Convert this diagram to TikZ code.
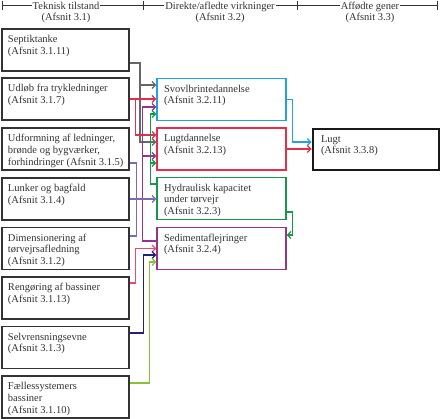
\documentclass[tikz,border=0pt]{standalone}
\usepackage{fontspec}
\setmainfont{Liberation Serif}
\usepackage{xcolor}
\usepackage{tikz}
\usetikzlibrary{arrows.meta}

\definecolor{boxgray}{HTML}{333333}
\definecolor{txtgray}{HTML}{333333}
\definecolor{lgray}{HTML}{666666}
\definecolor{cred}{HTML}{E42F4C}
\definecolor{cblue}{HTML}{22A3DE}
\definecolor{cgreen}{HTML}{169947}
\definecolor{cpurple}{HTML}{93358A}
\definecolor{clav}{HTML}{7A69B5}
\definecolor{cpink}{HTML}{E84A74}
\definecolor{cnavy}{HTML}{252070}
\definecolor{clime}{HTML}{86C234}

\newcommand{\boxtxt}[1]{\parbox[c][31pt][t]{115pt}{\begin{tabular}[t]{@{}l@{}}#1\end{tabular}}}

\tikzset{
  leftbox/.style={draw=boxgray, line width=1.4pt, minimum width=127pt, minimum height=42pt,
    inner xsep=6pt, inner ysep=5.5pt, text=txtgray},
  midbox/.style={draw=#1, line width=1.3pt, minimum width=129pt, minimum height=42pt,
    inner xsep=7pt, inner ysep=5.5pt, text=txtgray},
  conn/.style={line width=1.2pt},
  headtxt/.style={fill=white, inner sep=1pt, align=center, text=txtgray}
}

\begin{document}
\begin{tikzpicture}[x=1pt, y=-1pt, >={Straight Barb[length=3.5pt,width=7pt]},
    every node/.style={font=\fontsize{10.5}{11.7}\selectfont}]
    \useasboundingbox (0,0) rectangle (442,419);

    % Header
    \draw[boxgray, line width=0.8pt] (2,5.5) -- (437,5.5);
    \foreach \tx in {2,143,297,437}
      \draw[boxgray, line width=1pt] (\tx,1) -- (\tx,10);
    \node[headtxt] (h1) at (66,12.5) {Teknisk tilstand\\(Afsnit 3.1)};
    \node[headtxt] (h2) at (220,12.5) {Direkte/afledte virkninger\\(Afsnit 3.2)};
    \node[headtxt] (h3) at (370,12.5) {Affødte gener\\(Afsnit 3.3)};

    % Teknisk tilstand
    \node[leftbox] (sep) at (65.5,50) {\boxtxt{Septiktanke\\(Afsnit 3.1.11)}};
    \node[leftbox] (udl) at (65.5,99) {\boxtxt{Udløb fra trykledninger\\(Afsnit 3.1.7)}};
    \node[leftbox] (udf) at (65.5,149) {\boxtxt{Udformning af ledninger,\\brønde og bygværker,\\forhindringer (Afsnit 3.1.5)}};
    \node[leftbox] (lun) at (65.5,199) {\boxtxt{Lunker og bagfald\\(Afsnit 3.1.4)}};
    \node[leftbox] (dim) at (65.5,248.5) {\boxtxt{Dimensionering af\\tørvejrsafledning\\(Afsnit 3.1.2)}};
    \node[leftbox] (ren) at (65.5,298) {\boxtxt{Rengøring af bassiner\\(Afsnit 3.1.13)}};
    \node[leftbox] (sel) at (65.5,347.5) {\boxtxt{Selvrensningsevne\\(Afsnit 3.1.3)}};
    \node[leftbox] (fae) at (65.5,397) {\boxtxt{Fællessystemers\\bassiner\\(Afsnit 3.1.10)}};

    % Direkte/afledte virkninger
    \node[midbox=cblue] (svo) at (221.5,99.5) {\boxtxt{Svovlbrintedannelse\\(Afsnit 3.2.11)}};
    \node[midbox=cred] (lgd) at (221.5,149) {\boxtxt{Lugtdannelse\\(Afsnit 3.2.13)}};
    \node[midbox=cgreen] (hyd) at (221.5,198.5) {\boxtxt{Hydraulisk kapacitet\\under tørvejr\\(Afsnit 3.2.3)}};
    \node[midbox=cpurple] (sed) at (221.5,248.5) {\boxtxt{Sedimentaflejringer\\(Afsnit 3.2.4)}};

    % Affødte gener
    \node[draw=black!90, line width=2.8pt, minimum width=126pt, minimum height=41pt,
      inner xsep=7pt, inner ysep=4.5pt, text=txtgray] (lugt) at (376,149.5)
      {\parbox[c][31pt][t]{110pt}{\begin{tabular}[t]{@{}l@{}}Lugt\\(Afsnit 3.3.8)\end{tabular}}};

    % Septiktanke
    \draw[conn, lgray, ->] ([yshift=-13pt]sep.east) -| ([xshift=-16.3pt,yshift=7pt]lgd.west) -- ([yshift=7pt]lgd.west);
    \draw[conn, lgray, ->] ([xshift=-16.3pt,yshift=14.5pt]svo.west) -- ([yshift=14.5pt]svo.west);
    % Udloeb
    \draw[conn, cred, ->] (udl.east) -- (udl.east -| svo.west);
    \draw[conn, cred, ->] ([xshift=6pt]udl.east) |- ([yshift=14pt]lgd.west);
    % Sedimentaflejringer tilbage
    \draw[conn, cpurple, ->] ([yshift=7.5pt]sed.west) -| ([xshift=-14pt,yshift=-7.5pt]svo.west) -- ([yshift=-7.5pt]svo.west);
    \draw[conn, cpurple, ->] ([xshift=-14pt,yshift=-7pt]lgd.west) -- ([yshift=-7pt]lgd.west);
    % Hydraulisk kapacitet
    \draw[conn, cgreen, ->] ([yshift=14.5pt]hyd.west) -| ([xshift=-6pt,yshift=-14.5pt]svo.west) -- ([yshift=-14.5pt]svo.west);
    \draw[conn, cgreen, ->] ([xshift=-6pt,yshift=-14pt]lgd.west) -- ([yshift=-14pt]lgd.west);
    \draw[conn, cgreen, ->] ([yshift=-13.5pt]hyd.east) -- ++(6,0) |- ([yshift=13.5pt]sed.east);
    % Udformning, lunker, dimensionering
    \draw[conn, clav] ([yshift=-14pt]udf.east) -| ([xshift=7pt,yshift=12.5pt]dim.east) -- ([yshift=12.5pt]dim.east);
    \draw[conn, clav, ->] (lun.east) -- (lun.east -| hyd.west);
    % Til sedimentaflejringer
    \draw[conn, cpink, ->] ([yshift=15pt]ren.east) -| ([xshift=-21pt]sed.west) -- (sed.west);
    \draw[conn, cnavy, ->] ([yshift=14.5pt]sel.east) -| ([xshift=-13pt,yshift=-6.5pt]sed.west) -- ([yshift=-6.5pt]sed.west);
    \draw[conn, clime, ->] ([yshift=14pt]fae.east) -| ([xshift=-7pt,yshift=-13.5pt]sed.west) -- ([yshift=-13.5pt]sed.west);
    % Til lugt
    \draw[conn, cblue, ->] (svo.east) -- ++(6,0) |- ([yshift=7.5pt]lugt.west);
    \draw[conn, cred, ->] (lgd.east) -- (lgd.east -| lugt.west);
\end{tikzpicture}
\end{document}
